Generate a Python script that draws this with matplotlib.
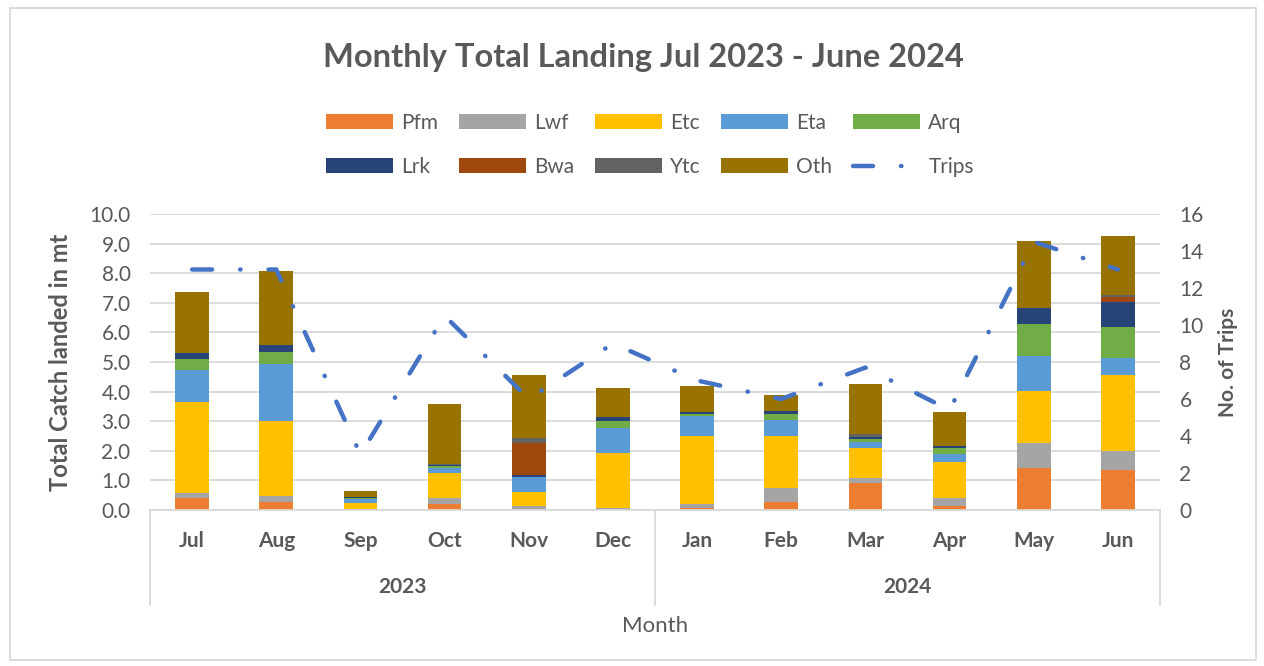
import matplotlib
matplotlib.use('Agg')
import matplotlib.pyplot as plt
import matplotlib.transforms as mtransforms
from matplotlib.patches import Patch, Rectangle
from matplotlib.lines import Line2D
import numpy as np

plt.rcParams['font.family'] = ['Lato', 'DejaVu Sans']

months = ['Jul', 'Aug', 'Sep', 'Oct', 'Nov', 'Dec', 'Jan', 'Feb', 'Mar', 'Apr', 'May', 'Jun']
years = ['2023', '2024']

# catch per species group in mt
pfm = [0.40, 0.26, 0.00, 0.21, 0.00, 0.00, 0.07, 0.26, 0.91, 0.14, 1.43, 1.35]
lwf = [0.16, 0.22, 0.02, 0.21, 0.12, 0.08, 0.12, 0.47, 0.18, 0.26, 0.82, 0.64]
etc = [3.09, 2.51, 0.21, 0.82, 0.49, 1.83, 2.30, 1.77, 0.99, 1.21, 1.78, 2.56]
eta = [1.08, 1.95, 0.14, 0.17, 0.51, 0.87, 0.69, 0.53, 0.23, 0.29, 1.17, 0.58]
arq = [0.37, 0.39, 0.04, 0.08, 0.00, 0.21, 0.06, 0.21, 0.09, 0.18, 1.08, 1.04]
lrk = [0.22, 0.25, 0.03, 0.03, 0.05, 0.14, 0.06, 0.09, 0.08, 0.09, 0.56, 0.87]
bwa = [0.00, 0.00, 0.00, 0.00, 1.08, 0.00, 0.00, 0.00, 0.00, 0.00, 0.00, 0.14]
ytc = [0.00, 0.00, 0.00, 0.03, 0.18, 0.00, 0.00, 0.00, 0.08, 0.00, 0.00, 0.08]
oth = [2.05, 2.48, 0.20, 2.04, 2.13, 0.99, 0.89, 0.56, 1.70, 1.13, 2.26, 1.98]

trips = [13, 13, 3, 10.5, 6, 9, 7, 6, 7.7, 5.4, 14.5, 13]

series = [('Pfm', pfm, '#ED7D31'), ('Lwf', lwf, '#A5A5A5'), ('Etc', etc, '#FFC000'),
          ('Eta', eta, '#5B9BD5'), ('Arq', arq, '#70AD47'), ('Lrk', lrk, '#264478'),
          ('Bwa', bwa, '#9E480E'), ('Ytc', ytc, '#636363'), ('Oth', oth, '#997300')]

txt = '#595959'
grid = '#D9D9D9'
trip_style = (0, (4.5, 6.3, 0.1, 6.3))

fig = plt.figure(figsize=(12.64, 6.66), dpi=100)
ax = fig.add_axes([150/1264, 1 - 510/666, 1010/1264, 296/666])

x = np.arange(len(months))
bottom = np.zeros(len(months))
for name, vals, col in series:
    ax.bar(x, vals, width=0.4, bottom=bottom, color=col, linewidth=0, zorder=2)
    bottom += np.array(vals)

ax.set_xlim(-0.5, len(months) - 0.5)
ax.set_ylim(0, 10)
ax.set_yticks(np.arange(0, 10.1, 1.0))
ax.set_yticklabels([f'{v:.1f}' for v in np.arange(0, 10.1, 1.0)])
ax.yaxis.grid(True, color=grid, linewidth=1.3, zorder=0)
ax.set_axisbelow(True)
for s in ['top', 'left', 'right']:
    ax.spines[s].set_visible(False)
ax.spines['bottom'].set_color(grid)
ax.spines['bottom'].set_linewidth(1.3)
ax.tick_params(axis='y', length=0, labelsize=15, colors=txt, pad=14)
ax.set_xticks([])
ax.set_ylabel('Total Catch landed in mt', fontsize=17, fontweight='bold', color=txt)
ax.yaxis.set_label_coords(-0.077, 0.5)

ax2 = ax.twinx()
ax2.plot(x, trips, color='#4472C4', linewidth=3.2, linestyle=trip_style,
         dash_capstyle='round', zorder=5)
ax2.set_ylim(0, 16)
ax2.set_yticks(range(0, 17, 2))
for s in ['top', 'left', 'right', 'bottom']:
    ax2.spines[s].set_visible(False)
ax2.tick_params(axis='y', length=0, labelsize=15, colors=txt, pad=14)
ax2.set_ylabel('No. of Trips', fontsize=15, fontweight='bold', color=txt)
ax2.yaxis.set_label_coords(1.057, 0.5)

# two level category axis
trans = mtransforms.blended_transform_factory(ax.transData, ax.transAxes)
for xs in [-0.5, 5.5, 11.5]:
    ax.plot([xs, xs], [0, -95/296], transform=trans, color=grid, linewidth=1.3, clip_on=False)
for i, m in enumerate(months):
    ax.text(i, -31/296, m, transform=trans, ha='center', va='center',
            fontsize=15, fontweight='bold', color=txt)
for j, yr in enumerate(years):
    ax.text(2.5 + 6*j, -77/296, yr, transform=trans, ha='center', va='center',
            fontsize=15, fontweight='bold', color=txt)
ax.text(0.5, -116/296, 'Month', transform=ax.transAxes, ha='center', va='center',
        fontsize=16, color=txt)

fig.text(643/1264, 1 - 58/666, 'Monthly Total Landing Jul 2023 - June 2024',
         ha='center', va='center', fontsize=23.5, fontweight='bold', color=txt)

handles = [Patch(facecolor=c, edgecolor='none', label=n) for n, _, c in series]
handles.append(Line2D([0], [0], color='#4472C4', linewidth=3.2,
                      linestyle=trip_style, dash_capstyle='round', label='Trips'))
# legend fills column by column, so interleave the two rows
order = [0, 5, 1, 6, 2, 7, 3, 8, 4, 9]
handles = [handles[i] for i in order]
leg = fig.legend(handles=handles, loc='center', bbox_to_anchor=(650/1264, 1 - 145/666),
                 ncol=5, frameon=False, fontsize=15, handlelength=3.2, handleheight=0.7,
                 handletextpad=0.4, columnspacing=1.0, labelspacing=1.15)
for t in leg.get_texts():
    t.set_color(txt)

fig.patches.append(Rectangle((10/1264, 6/666), 1246/1264, 652/666, transform=fig.transFigure,
                             fill=False, edgecolor=grid, linewidth=1.3))

fig.savefig('out.png', dpi=100)
